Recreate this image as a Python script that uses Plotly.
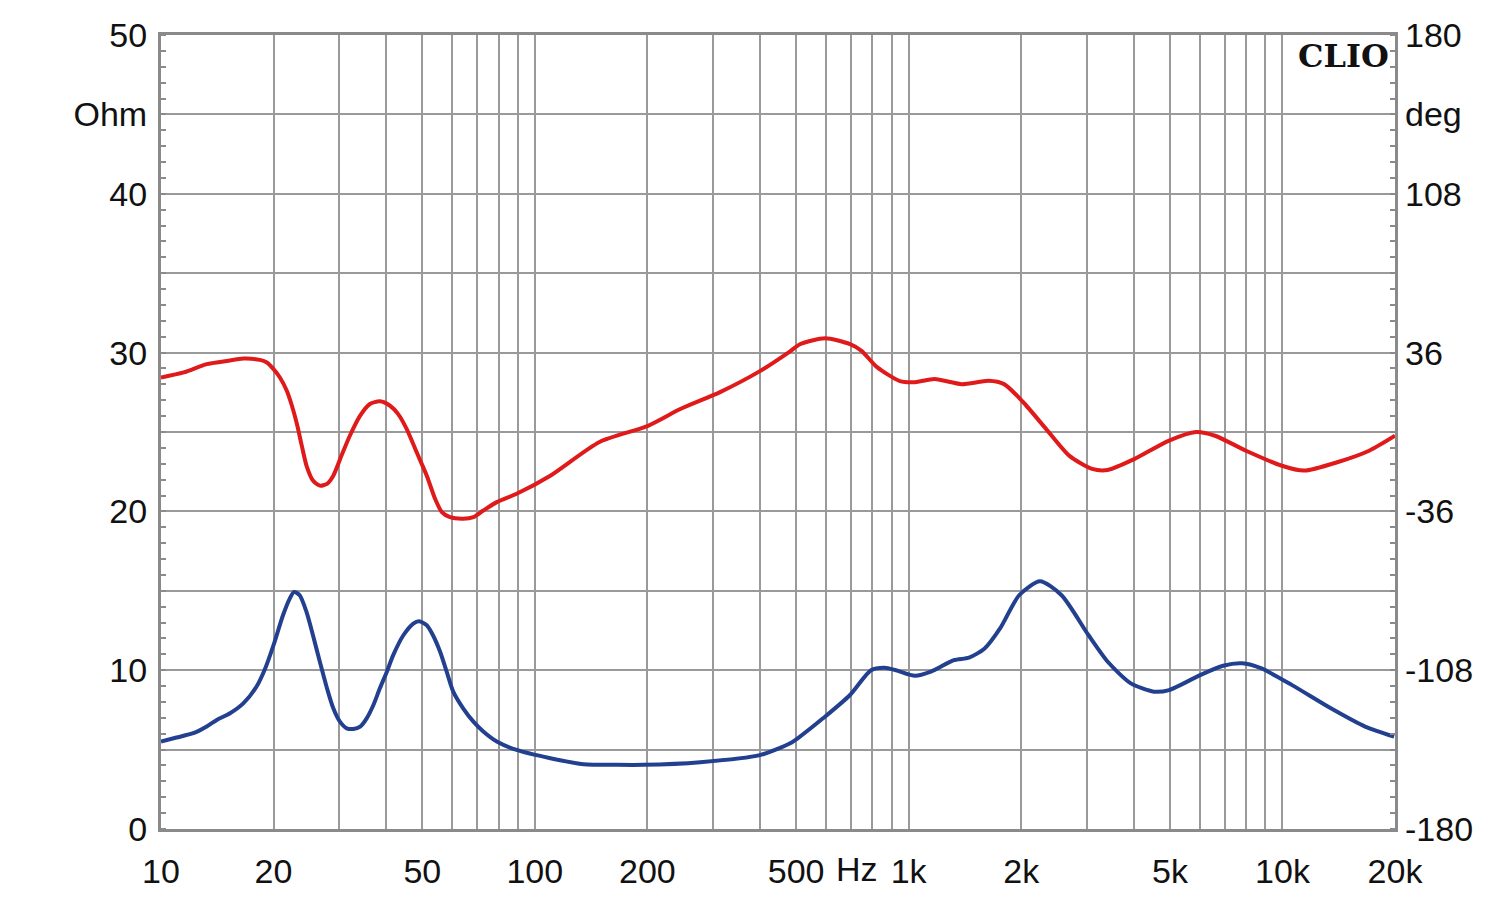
import plotly.graph_objects as go
import numpy as np

# Impedance magnitude (Ohm) - blue
imp_freq = [10, 11.0, 12.2, 13.25, 14.1, 15.3, 16.6, 18.0, 19.0, 20.0, 21.2, 22.1, 22.7, 23.5,
            24.5, 25.5, 26.6, 27.8, 28.9, 30.1, 31.4, 32.7, 34.1, 35.5, 37.0, 38.5, 40.2, 41.8,
            44.5, 47.3, 49.0, 51.4, 53.4, 55.8, 58.1, 60.5, 64.3, 68.5, 72.8, 79.1, 89.4, 110,
            135, 166, 195, 277, 400, 482, 512, 590, 697, 793, 863, 925, 1040, 1147, 1321, 1451,
            1597, 1756, 1975, 2246, 2565, 3029, 3409, 3930, 4529, 4973, 6020, 6937, 7798, 8790,
            10610, 13475, 16634, 19890]
imp_ohm = [5.51, 5.76, 6.03, 6.45, 6.87, 7.29, 7.91, 8.96, 10.11, 11.58, 13.46, 14.51, 14.93, 14.72,
           13.67, 12.2, 10.53, 8.86, 7.6, 6.76, 6.34, 6.3, 6.45, 6.97, 7.81, 8.86, 9.91, 10.95,
           12.2, 12.94, 13.08, 12.83, 12.2, 11.16, 9.91, 8.65, 7.6, 6.76, 6.14, 5.51, 4.98, 4.46,
           4.08, 4.04, 4.04, 4.21, 4.65, 5.4, 5.82, 6.97, 8.44, 10.0, 10.16, 10.0, 9.65, 9.91, 10.63, 10.79,
           11.37, 12.63, 14.72, 15.6, 14.72, 12.2, 10.53, 9.17, 8.65, 8.75, 9.69, 10.28, 10.43, 10.11,
           9.06, 7.6, 6.45, 5.82]

# Phase (deg) - red
ph_freq = [10, 11.5, 13.25, 15.0, 16.6, 18.4, 19.2, 20.0, 20.8, 21.7, 22.4, 23.1, 23.8, 24.5,
           25.5, 26.6, 27.8, 28.9, 30.4, 32.0, 34.1, 36.2, 38.5, 41.0, 43.1, 45.4, 48.3, 51.4,
           54.1, 56.4, 59.3, 64.3, 68.5, 72.8, 79.1, 89.4, 110, 149, 200, 245, 313, 400, 482,
           512, 598, 697, 748, 823, 948, 1040, 1174, 1385, 1636, 1800, 2023, 2331, 2687, 3096,
           3409, 4023, 4973, 5873, 6601, 7990, 9915, 11423, 14083, 17050, 20000]
ph_deg = [24.7, 27.0, 30.8, 32.2, 33.3, 32.7, 31.5, 28.5, 24.7, 18.7, 11.9, 3.6, -6.2, -15.2,
          -22.0, -24.3, -23.5, -19.8, -10.7, -1.7, 7.4, 12.7, 13.9, 11.9, 8.1, 1.4, -9.2, -19.8,
          -30.3, -36.3, -38.6, -39.3, -38.6, -35.6, -31.8, -28.0, -19.8, -4.5, 2.7, 10.4, 18.1, 27.6, 36.6,
          39.8, 42.5, 39.8, 36.8, 29.4, 23.1, 22.6, 24.0, 21.7, 23.2, 21.7, 13.6, 1.4, -10.7, -16.7,
          -17.2, -12.2, -3.9, 0.0, -1.7, -8.5, -15.2, -17.5, -13.6, -8.5, -1.7]

# Axis ticks
x_grid = [m * 10 ** d for d in range(1, 5) for m in range(1, 10) if m * 10 ** d <= 20000]
x_labels = {10: "10", 20: "20", 50: "50", 100: "100", 200: "200", 500: "500",
            1000: "1k", 2000: "2k", 5000: "5k", 10000: "10k", 20000: "20k"}
y_vals = list(range(0, 55, 5))
y_text = {0: "0", 10: "10", 20: "20", 30: "30", 40: "40", 45: "Ohm", 50: "50"}
y2_vals = list(range(-180, 181, 36))
y2_text = {-180: "-180", -108: "-108", -36: "-36", 36: "36", 108: "108", 144: "deg", 180: "180"}

RED = "#E01A1A"
BLUE = "#22408F"
GRID = "#9a9a9a"
FRAME = "#8a8a8a"
FONT = "Liberation Sans, Arial, sans-serif"
FS = 34

fig = go.Figure()
fig.add_trace(go.Scatter(x=imp_freq, y=imp_ohm, mode="lines",
                         line=dict(color=BLUE, width=4, shape="spline", smoothing=0.7),
                         showlegend=False, hoverinfo="skip"))
fig.add_trace(go.Scatter(x=ph_freq, y=ph_deg, mode="lines", yaxis="y2",
                         line=dict(color=RED, width=4, shape="spline", smoothing=0.7),
                         showlegend=False, hoverinfo="skip"))

fig.update_layout(
    width=1500, height=902,
    margin=dict(l=161, r=105, t=35, b=71),
    paper_bgcolor="white", plot_bgcolor="white",
    font=dict(family=FONT, size=FS, color="#111111"),
    xaxis=dict(type="log", range=[1, np.log10(20000)],
               tickvals=x_grid, ticktext=[x_labels.get(v, "") for v in x_grid],
               showgrid=True, gridcolor=GRID, gridwidth=1.5,
               showline=True, linecolor=FRAME, linewidth=3, mirror=True,
               ticks="", ticklabelstandoff=10, zeroline=False,
               tickfont=dict(size=FS)),
    yaxis=dict(range=[0, 50], tickvals=y_vals, ticktext=[y_text.get(v, "") for v in y_vals],
               showgrid=True, gridcolor=GRID, gridwidth=1.5,
               showline=True, linecolor=FRAME, linewidth=3, mirror=True,
               ticks="", ticklabelstandoff=4, zeroline=False,
               minor=dict(dtick=1, ticks="inside", ticklen=5, tickcolor=FRAME, tickwidth=1.5,
                          showgrid=False),
               tickfont=dict(size=FS)),
    yaxis2=dict(range=[-180, 180], overlaying="y", side="right",
                tickvals=y2_vals, ticktext=[y2_text.get(v, "") for v in y2_vals],
                showgrid=False, zeroline=False, showline=False,
                ticks="", ticklabelstandoff=9,
                minor=dict(dtick=7.2, ticks="inside", ticklen=5, tickcolor=FRAME, tickwidth=1.5,
                           showgrid=False),
                tickfont=dict(size=FS)),
    annotations=[
        dict(text="Hz", xref="x", yref="paper", x=np.log10(728), y=0, yshift=-40,
             showarrow=False, font=dict(size=FS, family=FONT, color="#111111"),
             xanchor="center", yanchor="middle"),
        dict(text="<b>CLIO</b>", xref="paper", yref="paper", x=0.997, y=1.0,
             showarrow=False, xanchor="right", yanchor="top",
             font=dict(size=32, family="DejaVu Serif, serif", color="#111111")),
    ],
)

fig.write_html("out.html")
